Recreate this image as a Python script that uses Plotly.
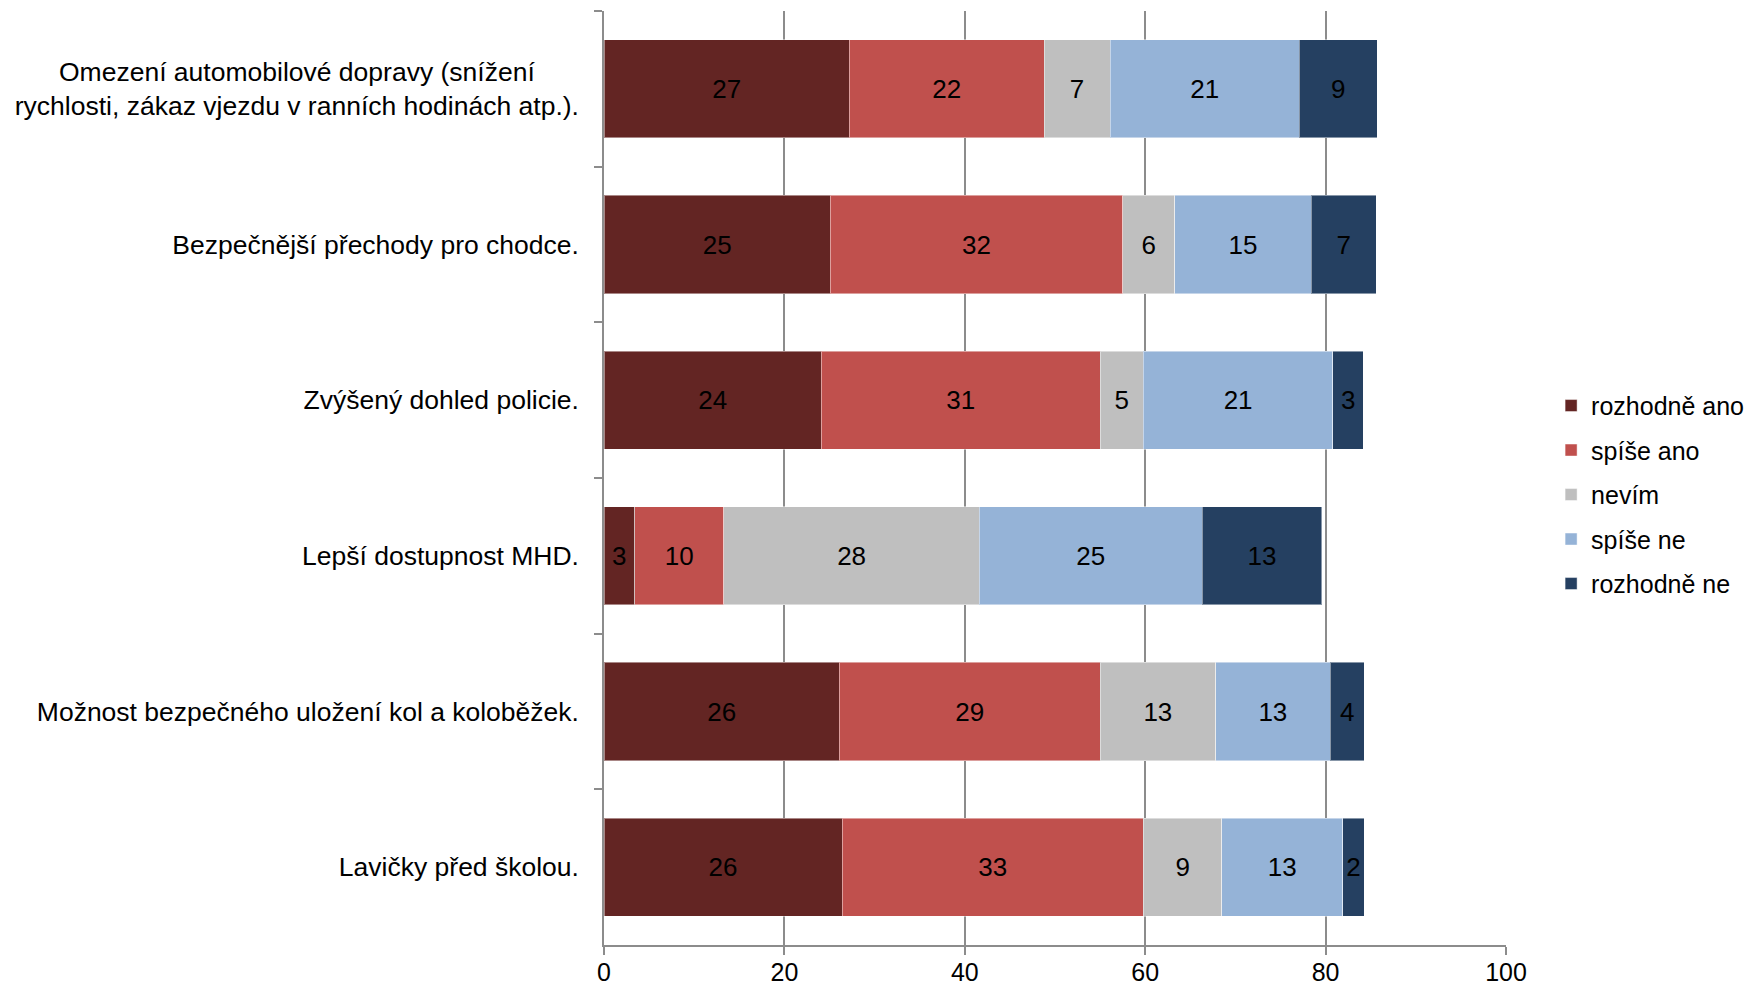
import plotly.graph_objects as go

categories = [
    "Omezení automobilové dopravy (snížení\u00a0\u00a0\u00a0\u00a0\u00a0\u00a0<br>rychlosti, zákaz vjezdu v ranních hodinách atp.).",
    "Bezpečnější přechody pro chodce.",
    "Zvýšený dohled policie.",
    "Lepší dostupnost MHD.",
    "Možnost bezpečného uložení kol a koloběžek.",
    "Lavičky před školou.",
]
series_names = ["rozhodně ano", "spíše ano", "nevím", "spíše ne", "rozhodně ne"]
rozhodne_ano = [27.2, 25.1, 24.1, 3.4, 26.1, 26.4]
spise_ano = [21.6, 32.4, 30.9, 9.9, 28.9, 33.4]
nevim = [7.3, 5.8, 4.8, 28.3, 12.8, 8.7]
spise_ne = [21.0, 15.1, 21.0, 24.7, 12.7, 13.4]
rozhodne_ne = [8.6, 7.2, 3.4, 13.3, 3.8, 2.4]
colors = ["#632523", "#C0504D", "#BFBFBF", "#95B3D7", "#254061"]
x_ticks = [0, 20, 40, 60, 80, 100]

FONT = "Liberation Sans, Arial, sans-serif"
FS = 26

fig = go.Figure()
for name, vals, col in zip(series_names,
                           [rozhodne_ano, spise_ano, nevim, spise_ne, rozhodne_ne],
                           colors):
    fig.add_trace(go.Bar(
        y=categories, x=vals, name=name, orientation="h",
        marker=dict(color=col, line=dict(color="rgba(255,255,255,0.45)", width=1)),
        texttemplate="%{x:.0f}", textposition="inside", insidetextanchor="middle",
        textangle=0, textfont=dict(color="black", size=FS, family=FONT),
        legendgroup=name, hoverinfo="x+name",
    ))

fig.update_layout(
    width=1748, height=981,
    barmode="stack", bargap=0.37,
    plot_bgcolor="white", paper_bgcolor="white",
    margin=dict(l=596, r=250, t=3, b=44, autoexpand=False),
    font=dict(family=FONT, size=FS, color="black"),
    uniformtext=dict(minsize=FS, mode="show"),
    legend=dict(x=1.05, y=0.482, xanchor="left", yanchor="middle",
                traceorder="grouped", tracegroupgap=9,
                font=dict(size=25, family=FONT)),
    xaxis=dict(range=[0, 100], tickvals=x_ticks, showgrid=True,
               gridcolor="#8C8C8C", gridwidth=1.5, automargin=False,
               showline=True, linecolor="#8C8C8C", linewidth=1.5,
               ticks="outside", ticklen=8, tickcolor="#8C8C8C", tickwidth=1.5,
               ticklabelstandoff=-4,
               zeroline=False, tickfont=dict(size=25)),
    yaxis=dict(autorange="reversed", showline=True, linecolor="#8C8C8C", linewidth=1.5,
               ticks="outside", tickson="boundaries", ticklen=8, automargin=False,
               tickcolor="#8C8C8C", tickwidth=1.5, showgrid=False,
               ticklabelstandoff=18, tickfont=dict(size=26.5)),
)

fig.write_html("out.html")
